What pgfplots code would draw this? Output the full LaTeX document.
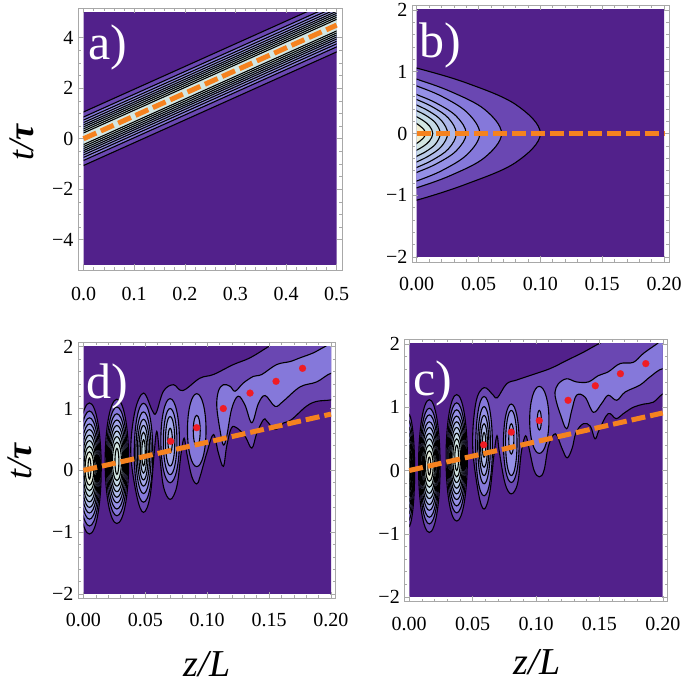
\documentclass[border=0pt]{standalone}
\usepackage{fontspec}
\setmainfont{Liberation Serif}
\usepackage{pgfplots}
\pgfplotsset{compat=1.18}

\definecolor{lv0}{HTML}{52218B}
\definecolor{lv1}{HTML}{6A47B2}
\definecolor{lv2}{HTML}{8578DA}
\definecolor{lv3}{HTML}{9590E6}
\definecolor{lv4}{HTML}{A3A6EA}
\definecolor{lv5}{HTML}{AEB9EA}
\definecolor{lv6}{HTML}{B9CAE8}
\definecolor{lv7}{HTML}{C5DAE6}
\definecolor{lv8}{HTML}{D2E6E2}
\definecolor{lv9}{HTML}{E2EBDA}
\definecolor{lv10}{HTML}{F2EFCF}
\definecolor{fg}{HTML}{A8A8A8}
\definecolor{dashc}{HTML}{F5821F}
\definecolor{dot}{HTML}{F01C24}

\tikzset{panel/.style={white,font=\fontsize{50}{50}\selectfont}}
\pgfplotsset{
  frame/.style={scale only axis, anchor=south west,
    axis line style={draw=fg,line width=.7pt},
    tick style={draw=fg,line width=.5pt},
    tick align=inside, major tick length=5.5pt, minor tick length=3pt,
    ticklabel style={font=\fontsize{20}{24}\selectfont,black},
    xticklabel style={yshift=-12pt}, yticklabel style={xshift=-1pt}},
  inner/.style={scale only axis, anchor=south west, hide axis, clip=true},
  dashln/.style={draw=dashc,line width=5pt,dash pattern=on 14pt off 5pt},
  reddots/.style={only marks,mark=*,mark size=3.5pt,mark options={solid,fill=dot,draw=dot,line width=.1pt}},
}
% filled contour levels: lobes, free curves, straight bands
\newcommand{\lobe}[2]{\addplot[fill=lv#1,draw=black,line width=1.1pt,smooth cycle,tension=1] coordinates {#2};}
\newcommand{\curve}[2]{\addplot[fill=lv#1,draw=black,line width=1.1pt,smooth cycle,tension=.6] coordinates {#2};}
\newcommand{\strip}[2]{\addplot[fill=lv#1,draw=black,line width=1.1pt] coordinates {#2} -- cycle;}
\newcommand{\base}{\addplot[fill=lv0,draw=none] coordinates {(-1,-9)(1,-9)(1,9)(-1,9)} -- cycle;}

\begin{document}
\begin{tikzpicture}
\path[use as bounding box] (0,0) rectangle (685pt,686pt);

% ---- a)
\begin{axis}[inner,at={(83.5pt,421pt)},width=253.2pt,height=252.5pt,xmin=0,xmax=.5,ymin=-5,ymax=5]
\base
\strip{1}{(-.1,.16)(.6,6.46)(.6,4.34)(-.1,-1.96)}
\strip{2}{(-.1,-.04)(.6,6.26)(.6,4.54)(-.1,-1.76)}
\strip{3}{(-.1,-.16)(.6,6.14)(.6,4.66)(-.1,-1.64)}
\strip{4}{(-.1,-.26)(.6,6.04)(.6,4.76)(-.1,-1.54)}
\strip{5}{(-.1,-.35)(.6,5.95)(.6,4.85)(-.1,-1.45)}
\strip{6}{(-.1,-.43)(.6,5.87)(.6,4.93)(-.1,-1.37)}
\strip{7}{(-.1,-.51)(.6,5.79)(.6,5.01)(-.1,-1.29)}
\strip{8}{(-.1,-.59)(.6,5.71)(.6,5.09)(-.1,-1.21)}
\strip{8}{(-.1,-.67)(.6,5.63)(.6,5.17)(-.1,-1.13)}
\end{axis}
\begin{axis}[frame,at={(78pt,416pt)},width=264pt,height=262pt,
  xmin=-.0109,xmax=.5105,ymin=-5.198,ymax=5.178,
  xtick={0,.1,.2,.3,.4,.5},xticklabels={0.0,0.1,0.2,0.3,0.4,0.5},
  xticklabel style={yshift=-2pt},
  ytick={-4,-2,0,2,4},yticklabels={−4,−2,0,2,4},
  minor x tick num=4,minor y tick num=3]
\addplot[dashln] coordinates {(0,0)(.5,4.5)};
\node[panel] at (axis cs:.048,3.6) {a)};
\end{axis}

% ---- b)
\begin{axis}[inner,at={(416.7pt,429pt)},width=247.3pt,height=247pt,xmin=0,xmax=.2,ymin=-2,ymax=2]
\base
\curve{1}{(-.04,.64)(-.02,1.16)(0,1.06)(.04,.82)(.08,.47)(.1,0)(.08,-.47)(.04,-.82)(0,-1.08)(-.02,-1.16)(-.04,-.64)}
\curve{2}{(-.0274,.53)(-.0137,.96)(0,.88)(.0274,.68)(.0549,.39)(.0686,0)(.0549,-.39)(.0274,-.68)(0,-.88)(-.0137,-.96)(-.0274,-.53)}
\curve{3}{(-.0204,.46)(-.0102,.84)(0,.77)(.0204,.60)(.0408,.34)(.051,0)(.0408,-.34)(.0204,-.60)(0,-.77)(-.0102,-.84)(-.0204,-.46)}
\curve{4}{(-.016,.38)(-.008,.69)(0,.63)(.016,.49)(.032,.28)(.04,0)(.032,-.28)(.016,-.49)(0,-.63)(-.008,-.69)(-.016,-.38)}
\curve{5}{(-.0128,.33)(-.0064,.60)(0,.55)(.0128,.43)(.0256,.25)(.032,0)(.0256,-.25)(.0128,-.43)(0,-.55)(-.0064,-.60)(-.0128,-.33)}
\curve{6}{(-.01,.28)(-.005,.50)(0,.46)(.01,.36)(.02,.21)(.025,0)(.02,-.21)(.01,-.36)(0,-.46)(-.005,-.50)(-.01,-.28)}
\curve{7}{(-.0076,.22)(-.0038,.41)(0,.37)(.0076,.29)(.0152,.17)(.019,0)(.0152,-.17)(.0076,-.29)(0,-.37)(-.0038,-.41)(-.0076,-.22)}
\curve{8}{(-.0052,.16)(-.0026,.30)(0,.27)(.0052,.21)(.0104,.12)(.013,0)(.0104,-.12)(.0052,-.21)(0,-.27)(-.0026,-.30)(-.0052,-.16)}
\curve{10}{(-.0028,.10)(-.0014,.18)(0,.16)(.0028,.12)(.0056,.07)(.007,0)(.0056,-.07)(.0028,-.12)(0,-.16)(-.0014,-.18)(-.0028,-.10)}
\end{axis}
\begin{axis}[frame,at={(412pt,424pt)},width=257pt,height=257pt,
  xmin=-.0038,xmax=.204,ymin=-2.081,ymax=2.081,
  xtick={0,.05,.1,.15,.2},xticklabels={0.00,0.05,0.10,0.15,0.20},
  ytick={-2,-1,0,1,2},yticklabels={−2,−1,0,1,2},
  minor x tick num=4,minor y tick num=4]
\addplot[dashln] coordinates {(0,0)(.2,0)};
\node[panel] at (axis cs:.019,1.43) {b)};
\end{axis}

% ---- d)
\begin{axis}[inner,at={(83.5pt,92pt)},width=247.5pt,height=247.3pt,xmin=0,xmax=.2,ymin=-2,ymax=2]
\base
\lobe{1}{(.0048,1.09)(.0143,.03)(.0048,-1.03)(-.0047,.03)}
\lobe{2}{(.0048,.96)(.0136,.03)(.0048,-.90)(-.0040,.03)}
\lobe{3}{(.0048,.85)(.0129,.03)(.0048,-.79)(-.0033,.03)}
\lobe{4}{(.0048,.75)(.0122,.03)(.0048,-.69)(-.0026,.03)}
\lobe{5}{(.0048,.66)(.0115,.03)(.0048,-.60)(-.0019,.03)}
\lobe{6}{(.0048,.57)(.0108,.03)(.0048,-.51)(-.0012,.03)}
\lobe{7}{(.0048,.48)(.0101,.03)(.0048,-.42)(-.0005,.03)}
\lobe{8}{(.0048,.39)(.0093,.03)(.0048,-.33)(.0003,.03)}
\lobe{9}{(.0048,.30)(.0083,.03)(.0048,-.24)(.0013,.03)}
\lobe{9}{(.0048,.20)(.0060,.03)(.0048,-.14)(.0036,.03)}
\lobe{1}{(.027,1.15)(.0365,.145)(.027,-.86)(.0175,.145)}
\lobe{2}{(.027,1.025)(.0356,.145)(.027,-.735)(.0184,.145)}
\lobe{3}{(.027,.915)(.0348,.145)(.027,-.625)(.0192,.145)}
\lobe{4}{(.027,.815)(.034,.145)(.027,-.525)(.02,.145)}
\lobe{5}{(.027,.725)(.0332,.145)(.027,-.435)(.0208,.145)}
\lobe{6}{(.027,.635)(.0324,.145)(.027,-.345)(.0216,.145)}
\lobe{7}{(.027,.545)(.0316,.145)(.027,-.255)(.0224,.145)}
\lobe{8}{(.027,.455)(.0306,.145)(.027,-.165)(.0234,.145)}
\lobe{8}{(.027,.355)(.0286,.145)(.027,-.065)(.0254,.145)}
\curve{1}{(.0382,.285)(.0415,.95)(.0485,1.25)(.0555,.97)(.0587,.93)(.0646,1.28)(.0727,1.385)(.0802,1.29)(.094,1.49)(.105,1.55)(.121,1.71)(.1346,1.82)(.1494,2.0)(.1615,2.14)(.21,2.5)(.21,1.2)(.2,1.14)(.1884,1.115)(.18,1.035)(.168,.82)(.1615,.765)(.1548,.66)(.148,.80)(.1454,.82)(.14,.60)(.136,.36)(.1306,.55)(.124,.685)(.1195,.685)(.1157,.39)(.113,.065)(.109,.28)(.105,.58)(.0996,.28)(.0942,-.1)(.0915,-.22)(.0875,-.1)(.0834,.28)(.0813,.52)(.0789,.28)(.0754,-.26)(.07,-.47)(.0646,-.26)(.0614,.28)(.0592,.63)(.0571,.28)(.0538,-.42)(.0485,-.68)(.0431,-.42)}
\lobe{2}{(.0485,1.085)(.056,.285)(.0485,-.515)(.041,.285)}
\lobe{3}{(.0485,.945)(.0547,.285)(.0485,-.375)(.0423,.285)}
\lobe{4}{(.0485,.825)(.0535,.285)(.0485,-.255)(.0435,.285)}
\lobe{5}{(.0485,.725)(.0523,.285)(.0485,-.155)(.0447,.285)}
\lobe{6}{(.0485,.615)(.0511,.285)(.0485,-.045)(.0459,.285)}
\lobe{7}{(.0485,.495)(.0499,.285)(.0485,.075)(.0471,.285)}
\lobe{2}{(.07,1.16)(.0775,.48)(.07,-.20)(.0625,.48)}
\lobe{3}{(.07,1.0)(.0755,.465)(.07,-.07)(.0645,.465)}
\lobe{4}{(.07,.87)(.0738,.47)(.07,.07)(.0662,.47)}
\lobe{5}{(.07,.68)(.0718,.48)(.07,.28)(.0682,.48)}
\lobe{2}{(.0915,1.24)(.099,.65)(.0915,.06)(.084,.65)}
\lobe{3}{(.0915,.89)(.0943,.64)(.0915,.39)(.0887,.64)}
\curve{2}{(.1077,1.035)(.109,1.28)(.113,1.385)(.1184,1.36)(.1225,1.28)(.129,1.41)(.1373,1.52)(.144,1.55)(.156,1.71)(.167,1.76)(.175,1.82)(.1857,1.9)(.195,2.0)(.21,2.14)(.21,1.55)(.2,1.57)(.1884,1.43)(.175,1.35)(.1615,1.12)(.1548,1.035)(.1468,1.21)(.1413,1.08)(.136,.77)(.1306,1.05)(.125,1.2)(.1198,1.0)(.1157,.55)(.113,.41)(.1103,.65)}
\end{axis}
\begin{axis}[frame,at={(78pt,88pt)},width=257.7pt,height=256pt,
  xmin=-.0044,xmax=.2038,ymin=-2.065,ymax=2.076,
  xtick={0,.05,.1,.15,.2},xticklabels={0.00,0.05,0.10,0.15,0.20},
  ytick={-2,-1,0,1,2},yticklabels={−2,−1,0,1,2},
  minor x tick num=4,minor y tick num=4]
\addplot[dashln] coordinates {(0,0)(.2,.91)};
\addplot[reddots] coordinates {(.0705,.47)(.0915,.69)(.113,1.0)(.1346,1.25)(.1556,1.44)(.177,1.65)};
\node[panel] at (axis cs:.019,1.36) {d)};
\end{axis}

% ---- c)
\begin{axis}[inner,at={(409.3pt,89pt)},width=253.4pt,height=253pt,xmin=0,xmax=.2,ymin=-2,ymax=2]
\base
\lobe{1}{(-.001,.905)(.0042,0)(-.001,-.905)(-.0062,0)}
\lobe{2}{(-.001,.80)(.0035,0)(-.001,-.80)(-.0055,0)}
\lobe{3}{(-.001,.70)(.0029,0)(-.001,-.70)(-.0049,0)}
\lobe{4}{(-.001,.61)(.0024,0)(-.001,-.61)(-.0044,0)}
\lobe{5}{(-.001,.52)(.0019,0)(-.001,-.52)(-.0039,0)}
\lobe{6}{(-.001,.43)(.0014,0)(-.001,-.43)(-.0034,0)}
\lobe{7}{(-.001,.34)(.0009,0)(-.001,-.34)(-.0029,0)}
\lobe{8}{(-.001,.24)(.0004,0)(-.001,-.24)(-.0024,0)}
\lobe{1}{(.0158,1.12)(.0243,.07)(.0158,-.98)(.0073,.07)}
\lobe{2}{(.0158,.985)(.0236,.07)(.0158,-.845)(.008,.07)}
\lobe{3}{(.0158,.88)(.023,.07)(.0158,-.74)(.0086,.07)}
\lobe{4}{(.0158,.77)(.0224,.07)(.0158,-.63)(.0092,.07)}
\lobe{5}{(.0158,.68)(.0218,.07)(.0158,-.54)(.0098,.07)}
\lobe{6}{(.0158,.585)(.0212,.07)(.0158,-.445)(.0104,.07)}
\lobe{7}{(.0158,.50)(.0205,.07)(.0158,-.36)(.0111,.07)}
\lobe{8}{(.0158,.405)(.0198,.07)(.0158,-.265)(.0118,.07)}
\lobe{9}{(.0158,.31)(.0188,.07)(.0158,-.17)(.0128,.07)}
\lobe{9}{(.0158,.21)(.017,.07)(.0158,-.07)(.0146,.07)}
\lobe{1}{(.0374,1.2)(.0458,.2)(.0374,-.8)(.029,.2)}
\lobe{2}{(.0374,1.07)(.045,.2)(.0374,-.67)(.0298,.2)}
\lobe{3}{(.0374,.96)(.0443,.2)(.0374,-.56)(.0305,.2)}
\lobe{4}{(.0374,.86)(.0436,.2)(.0374,-.46)(.0312,.2)}
\lobe{5}{(.0374,.77)(.0429,.2)(.0374,-.37)(.0319,.2)}
\lobe{6}{(.0374,.68)(.0422,.2)(.0374,-.28)(.0326,.2)}
\lobe{7}{(.0374,.59)(.0414,.2)(.0374,-.19)(.0334,.2)}
\lobe{8}{(.0374,.50)(.0404,.2)(.0374,-.10)(.0344,.2)}
\lobe{8}{(.0374,.40)(.0389,.2)(.0374,0)(.0359,.2)}
\curve{1}{(.05,.395)(.0526,1.08)(.059,1.31)(.0663,1.19)(.0695,1.15)(.0768,1.37)(.0847,1.43)(.095,1.5)(.111,1.61)(.1242,1.74)(.1374,1.87)(.1492,2.0)(.165,2.15)(.21,2.5)(.21,1.3)(.2,1.21)(.1926,1.08)(.185,1.05)(.1768,1.0)(.169,.9)(.1632,.82)(.157,.9)(.15,.65)(.1466,.5)(.1429,.7)(.1374,.74)(.1316,.6)(.1285,.35)(.1245,.2)(.1205,.35)(.1153,.58)(.11,.4)(.1063,0)(.1026,-.1)(.0985,0)(.0945,.35)(.0918,.55)(.0885,.3)(.0855,-.2)(.0805,-.37)(.0755,-.2)(.071,.3)(.0692,.55)(.0668,.25)(.0635,-.35)(.059,-.61)(.0545,-.35)}
\lobe{2}{(.059,1.17)(.0656,.385)(.059,-.40)(.0524,.385)}
\lobe{3}{(.059,1.01)(.064,.40)(.059,-.21)(.054,.40)}
\lobe{4}{(.059,.87)(.0628,.395)(.059,-.08)(.0552,.395)}
\lobe{5}{(.059,.74)(.0617,.395)(.059,.05)(.0563,.395)}
\lobe{6}{(.059,.60)(.0604,.405)(.059,.21)(.0576,.405)}
\lobe{2}{(.0805,1.05)(.0867,.43)(.0805,-.19)(.0743,.43)}
\lobe{3}{(.0805,.95)(.085,.435)(.0805,-.08)(.076,.435)}
\lobe{4}{(.0805,.74)(.0825,.5)(.0805,.26)(.0785,.5)}
\lobe{2}{(.1026,1.33)(.1102,.8)(.1026,.27)(.095,.8)}
\lobe{3}{(.1026,.95)(.1042,.795)(.1026,.64)(.101,.795)}
\curve{2}{(.115,1.24)(.1176,1.37)(.1242,1.45)(.132,1.4)(.1413,1.4)(.1492,1.5)(.157,1.56)(.1663,1.69)(.1768,1.71)(.1847,1.85)(.1953,2.0)(.21,2.2)(.21,1.55)(.2,1.61)(.19,1.48)(.182,1.35)(.1703,1.24)(.1637,1.11)(.157,1.19)(.1518,1.06)(.1453,.92)(.1387,1.16)(.132,1.19)(.1282,.95)(.1242,.66)(.119,.9)(.1158,1.11)}
\end{axis}
\begin{axis}[frame,at={(404.3pt,84.3pt)},width=263.4pt,height=262.7pt,
  xmin=-.0039,xmax=.2039,ymin=-2.074,ymax=2.079,
  xtick={0,.05,.1,.15,.2},xticklabels={0.00,0.05,0.10,0.15,0.20},
  ytick={-2,-1,0,1,2},yticklabels={−2,−1,0,1,2},
  minor x tick num=4,minor y tick num=4]
\addplot[dashln] coordinates {(0,0)(.2,.91)};
\addplot[reddots] coordinates {(.0587,.406)(.0805,.607)(.1026,.79)(.1253,1.11)(.1468,1.34)(.1666,1.53)(.1866,1.69)};
\node[panel] at (axis cs:.0187,1.38) {c)};
\end{axis}

% axis titles
\node[rotate=90,font=\fontsize{36}{36}\selectfont\itshape] at (22pt,543pt) {t/\textbf{τ}};
\node[rotate=90,font=\fontsize{36}{36}\selectfont\itshape] at (20pt,224pt) {t/\textbf{τ}};
\node[font=\fontsize{38}{38}\selectfont\itshape] at (207pt,22pt) {z/L};
\node[font=\fontsize{38}{38}\selectfont\itshape] at (537pt,24pt) {z/L};
\end{tikzpicture}
\end{document}
